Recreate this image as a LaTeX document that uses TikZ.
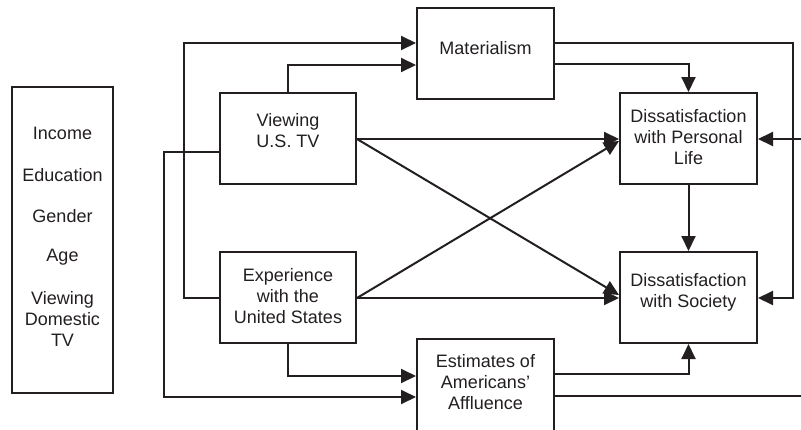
\documentclass[tikz,border=0pt]{standalone}
\usepackage{fontspec}
\setmainfont{Liberation Sans}
\usetikzlibrary{arrows.meta}
\definecolor{linec}{RGB}{35,31,32}
\begin{document}
\begin{tikzpicture}[x=1pt,y=-1pt,
  box/.style={draw=linec, line width=2pt, inner sep=0pt, minimum width=137pt, minimum height=91pt},
  txt/.style={text=linec, align=center, inner sep=0pt, font=\fontsize{18}{21}\selectfont},
  conn/.style={draw=linec, line width=2pt},
  arr/.style={conn, -{Triangle[length=15pt,width=14pt]}}]
\path[use as bounding box, clip] (0,0) rectangle (801,429);
\fill[white] (0,0) rectangle (801,429);
% boxes
\node[box, minimum width=101pt, minimum height=306pt] (ctrl) at (62.5,240) {};
\node[box, minimum width=136pt] (view) at (288,138.5) {};
\node[box, minimum width=136pt] (exp) at (288,297.5) {};
\node[box] (mat) at (485.5,53.5) {};
\node[box] (pers) at (688.5,138.5) {};
\node[box] (soc) at (688.5,297.5) {};
\node[box, minimum height=95pt] (est) at (485.5,386.5) {};
% texts
\node[txt] (t1) at (62.5,133) {Income};
\node[txt] (t2) at (62.5,175) {Education};
\node[txt] (t3) at (62.5,216) {Gender};
\node[txt] (t4) at (62.5,257) {Age};
\node[txt] (t5) at (62.5,319) {Viewing\\Domestic\\TV};
\node[txt] (viewT) at (288,131) {Viewing\\U.S. TV};
\node[txt] (expT) at (288,296) {Experience\\with the\\United States};
\node[txt] (matT) at (485.5,48) {Materialism};
\node[txt] (persT) at (688.5,137) {Dissatisfaction\\with Personal\\Life};
\node[txt] (socT) at (688.5,292) {Dissatisfaction\\with Society};
\node[txt] (estT) at (485.5,382) {Estimates of\\Americans'\\Affluence};
% free ends
\coordinate (edgeIn) at (801,139);
\coordinate (edgeOut) at (801,396);
% connectors
\draw[arr] (exp.west) -| (184,43) -- (mat.west |- 0,43);
\draw[arr] (view.north) |- (mat.west |- 0,65);
\draw[arr] (view.west |- 0,152) -| (164,397) -- (est.west |- 0,397);
\draw[arr] (exp.south) |- (est.west |- 0,376);
\draw[arr] (view.east |- 0,139) -- (pers.west |- 0,139);
\draw[arr] (view.east |- 0,139) -- (soc.west |- 0,295);
\draw[arr] (exp.east |- 0,298) -- (pers.west |- 0,141);
\draw[arr] (exp.east |- 0,298) -- (soc.west |- 0,298);
\draw[arr] (mat.east |- 0,64) -| (pers.north);
\draw[arr] (mat.east |- 0,43) -| (793,298) -- (soc.east |- 0,298);
\draw[arr] (edgeIn) -- (pers.east |- edgeIn);
\draw[arr] (pers.south) -- (soc.north);
\draw[arr] (est.east |- 0,374) -| (soc.south);
\draw[conn] (est.east |- edgeOut) -- (edgeOut);
\end{tikzpicture}
\end{document}
